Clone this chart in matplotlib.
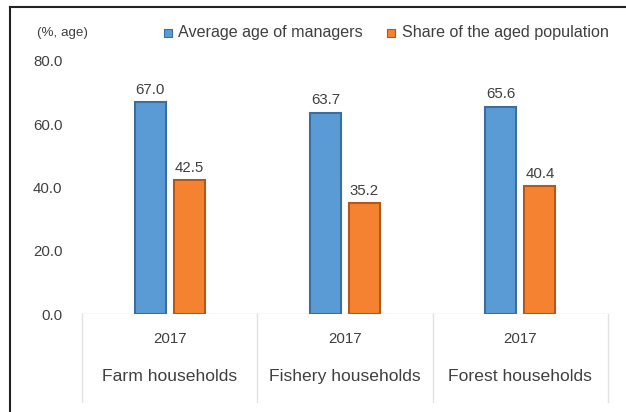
import matplotlib
matplotlib.use("Agg")
import matplotlib.pyplot as plt
import numpy as np
from matplotlib.lines import Line2D

categories = ["Farm households", "Fishery households", "Forest households"]
years = ["2017", "2017", "2017"]
avg_age = [67.0, 63.7, 65.6]
aged_share = [42.5, 35.2, 40.4]
series_names = ["Average age of managers", "Share of the aged population"]
yticks = [0, 20, 40, 60, 80]

plt.rcParams['font.family'] = ['Liberation Sans', 'DejaVu Sans']

W, H = 626, 412
fig = plt.figure(figsize=(W / 100, H / 100), dpi=100)
fig.patch.set_facecolor("white")

x0, x1 = 82, 608
ytop, ybot = 61, 314
ax = fig.add_axes([x0 / W, 1 - ybot / H, (x1 - x0) / W, (ybot - ytop) / H])
ax.set_xlim(0, 3)
ax.set_ylim(0, 80)
for s in ax.spines.values():
    s.set_visible(False)
ax.set_xticks([])
ax.set_yticks(yticks)
ax.set_yticklabels([f"{v:.1f}" for v in yticks], fontsize=10.8, color="#404040")
ax.tick_params(axis="y", length=0, pad=14)

x = np.arange(3) + 0.5
cw = (x1 - x0) / 3
bw = 31 / cw
gap = 8 / cw
blue, blue_e = "#5B9BD5", "#3A6E9E"
orange, orange_e = "#F58231", "#B5561A"
b1 = ax.bar(x - (bw + gap) / 2, avg_age, bw, color=blue, edgecolor=blue_e, linewidth=1.5, zorder=3)
b2 = ax.bar(x + (bw + gap) / 2, aged_share, bw, color=orange, edgecolor=orange_e, linewidth=1.5, zorder=3)
for bars, vals in ((b1, avg_age), (b2, aged_share)):
    for r, v in zip(bars, vals):
        ax.text(r.get_x() + r.get_width() / 2, v + 1.6, f"{v:.1f}", ha="center", va="bottom",
                fontsize=10.8, color="#404040")

# baseline and category boxes below axis
ax.axhline(0, color="#d9d9d9", lw=1, zorder=2)
trans = ax.get_xaxis_transform()
span = ybot - ytop
box_bottom = -(402 - ybot) / span
for xi in range(4):
    ax.add_line(Line2D([xi, xi], [0, box_bottom], transform=trans, color="#e3e3e3", lw=1, clip_on=False))
for xi, (yr, cat) in enumerate(zip(years, categories)):
    ax.text(xi + 0.5, -(343 - ybot) / span, yr, transform=trans, ha="center", va="baseline",
            fontsize=10.8, color="#404040")
    ax.text(xi + 0.5, -(381 - ybot) / span, cat, transform=trans, ha="center", va="baseline",
            fontsize=12.6, color="#404040")

# header texts
fig.text(37 / W, 1 - 33 / H, "(%, age)", ha="left", va="center", fontsize=9.6, color="#404040")
fig.patches.append(plt.Rectangle((164 / W, 1 - 37 / H), 8 / W, 8 / H, transform=fig.transFigure,
                                 facecolor=blue, edgecolor=blue_e, lw=0.8))
fig.text(178 / W, 1 - 33 / H, series_names[0], ha="left", va="center", fontsize=11.6, color="#404040")
fig.patches.append(plt.Rectangle((387 / W, 1 - 37 / H), 8 / W, 8 / H, transform=fig.transFigure,
                                 facecolor=orange, edgecolor=orange_e, lw=0.8))
fig.text(402 / W, 1 - 33 / H, series_names[1], ha="left", va="center", fontsize=11.6, color="#404040")

# frame lines (top and left)
fig.add_artist(Line2D([10 / W, 1], [1 - 7 / H, 1 - 7 / H], transform=fig.transFigure, color="#222222", lw=1.5))
fig.add_artist(Line2D([10 / W, 10 / W], [0, 1 - 7 / H], transform=fig.transFigure, color="#222222", lw=1.5))

fig.savefig("out.png", dpi=100)
